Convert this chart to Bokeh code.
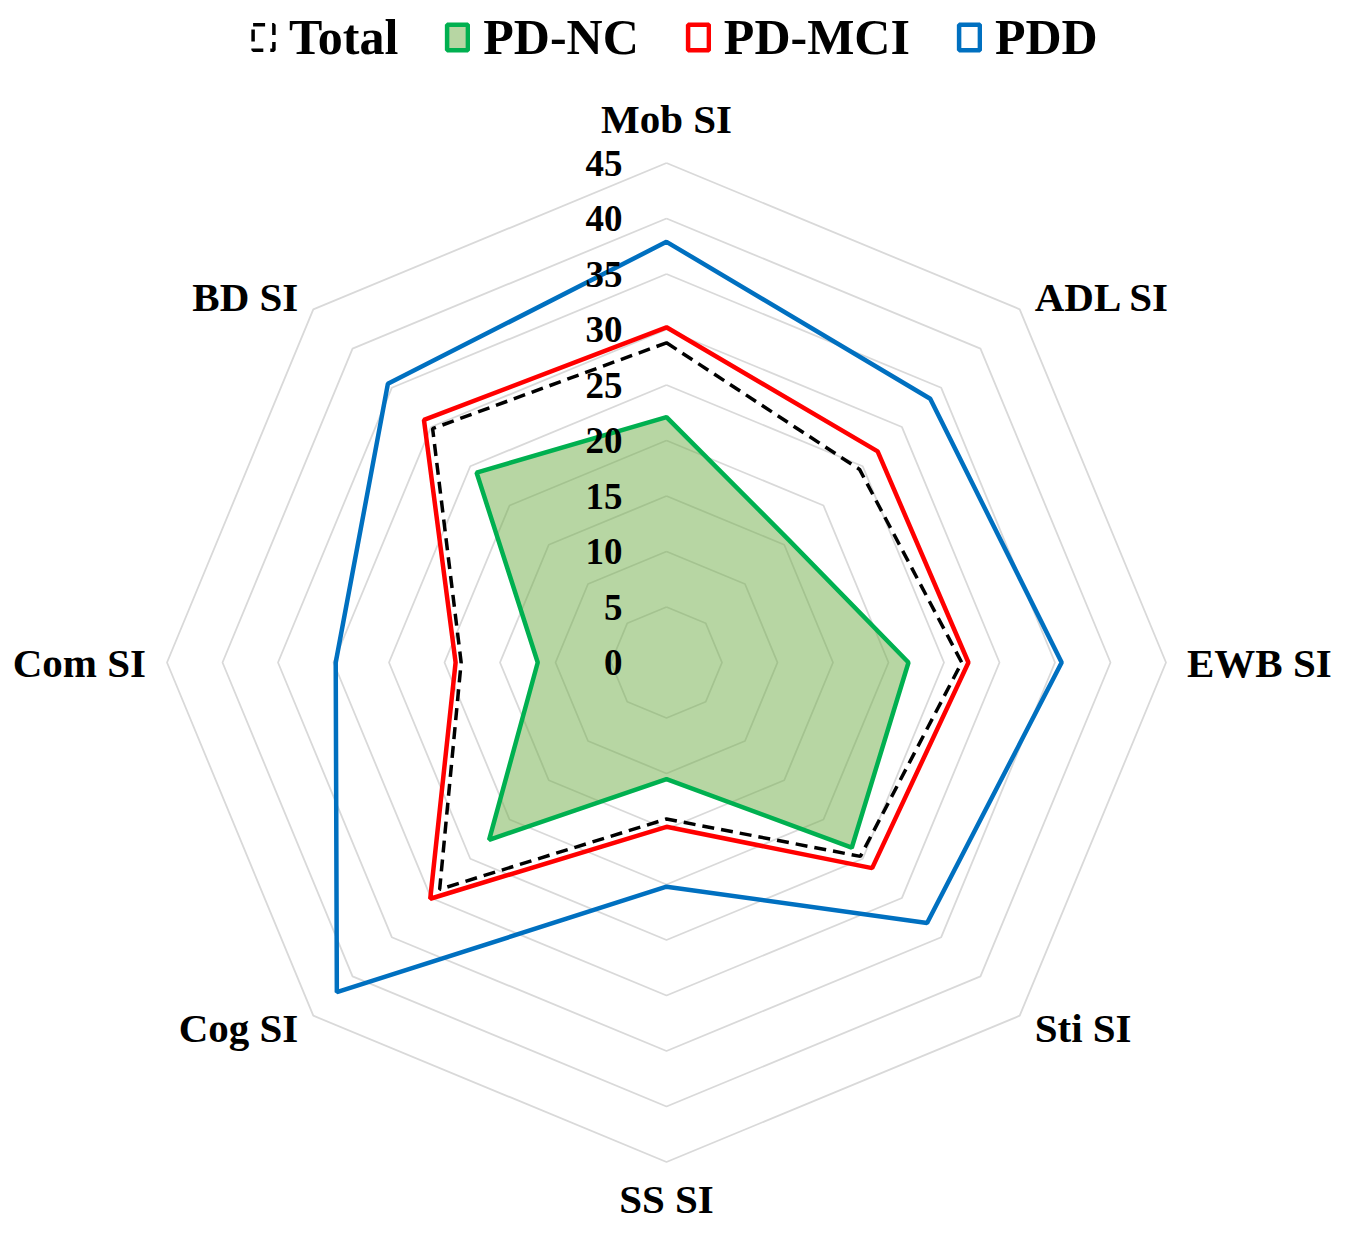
import math
from bokeh.plotting import figure
from bokeh.models import Range1d, ColumnDataSource, Legend, LegendItem
from bokeh.core.properties import value
from bokeh.embed import file_html
from bokeh.resources import INLINE

# ---- data ----
categories = ["Mob SI", "ADL SI", "EWB SI", "Sti SI", "SS SI", "Cog SI", "Com SI", "BD SI"]
total = [28.8, 24.6, 26.6, 24.7, 14.1, 28.9, 18.5, 29.8]
pd_nc = [22.1, 15.6, 21.8, 23.6, 10.5, 22.6, 11.6, 24.2]
pd_mci = [30.2, 26.9, 27.2, 26.2, 14.8, 30.1, 19.0, 30.9]
pdd = [37.9, 33.6, 35.6, 33.2, 20.2, 42.0, 29.8, 35.5]
ticks = [0, 5, 10, 15, 20, 25, 30, 35, 40, 45]
tick_labels = ["0", "5", "10", "15", "20", "25", "30", "35", "40", "45"]

# ---- layout ----
W, H = 1334, 1223
S = 11.1            # px per unit
cx, cy = 666, 662   # centre in figure px (from left, from top)
RMAX = ticks[-1]
FONT = value("Liberation Serif")

p = figure(width=W, height=H, output_backend="svg", toolbar_location=None,
           x_range=Range1d(-cx / S, (W - cx) / S),
           y_range=Range1d(-(H - cy) / S, cy / S),
           min_border=0)
p.axis.visible = False
p.grid.visible = False
p.outline_line_color = None
p.background_fill_color = "white"

n = len(categories)
angles = [2 * math.pi * i / n for i in range(n)]

def poly(vals):
    xs = [v * math.sin(a) for v, a in zip(vals, angles)]
    ys = [v * math.cos(a) for v, a in zip(vals, angles)]
    return xs, ys

# grid octagons
gx, gy = [], []
for t in ticks[1:]:
    xs, ys = poly([t] * n)
    gx.append(xs + [xs[0]])
    gy.append(ys + [ys[0]])
p.multi_line(gx, gy, line_color="#D9D9D9", line_width=1.8)

# series
xs, ys = poly(pd_nc)
r_nc = p.patch(xs, ys, fill_color="#70AD47", fill_alpha=0.5,
               line_color="#00B050", line_width=4.5)
xs, ys = poly(total)
r_tot = p.patch(xs, ys, fill_alpha=0, line_color="black", line_width=3.5,
                line_dash="12 7")
xs, ys = poly(pd_mci)
r_mci = p.patch(xs, ys, fill_alpha=0, line_color="#FF0000", line_width=4.5)
xs, ys = poly(pdd)
r_pdd = p.patch(xs, ys, fill_alpha=0, line_color="#0070C0", line_width=4.5)

# tick labels
p.text(x=[-44 / S] * len(ticks), y=ticks, text=tick_labels,
       text_font=FONT, text_font_style="bold", text_font_size="37px",
       text_align="right", text_baseline="middle", text_color="black")

# category labels
lx, ly, la = [], [], []
for a in angles:
    ux, uy = math.sin(a), math.cos(a)
    vx, vy = RMAX * ux, RMAX * uy
    if abs(ux) < 0.1:
        off = 44 if uy > 0 else -37
        ox, oy, al = 0, off, "center"
    elif abs(uy) < 0.1:
        ox, oy = 21 * (1 if ux > 0 else -1), 0
        al = "left" if ux > 0 else "right"
    else:
        ox = 15 * (1 if ux > 0 else -1)
        oy = 12.5 * (1 if uy > 0 else -1)
        al = "left" if ux > 0 else "right"
    lx.append(vx + ox / S)
    ly.append(vy + oy / S)
    la.append(al)
src = ColumnDataSource(dict(x=lx, y=ly, t=categories, a=la))
p.text(x="x", y="y", text="t", text_align="a", source=src,
       text_font=FONT, text_font_style="bold", text_font_size="41px",
       text_baseline="middle", text_color="black")

# legend
legend = Legend(items=[
    LegendItem(label="Total", renderers=[r_tot]),
    LegendItem(label="PD-NC", renderers=[r_nc]),
    LegendItem(label="PD-MCI", renderers=[r_mci]),
    LegendItem(label="PDD", renderers=[r_pdd]),
], orientation="horizontal", location=(250, H - 66),
    label_text_font="Liberation Serif", label_text_font_style="bold",
    label_text_font_size="50px", label_text_color="black",
    glyph_width=26, glyph_height=32,
    label_standoff=13, spacing=46, padding=0, margin=0,
    border_line_color=None, background_fill_alpha=0)
p.add_layout(legend, "center")

open("out.html", "w").write(file_html(p, INLINE))
